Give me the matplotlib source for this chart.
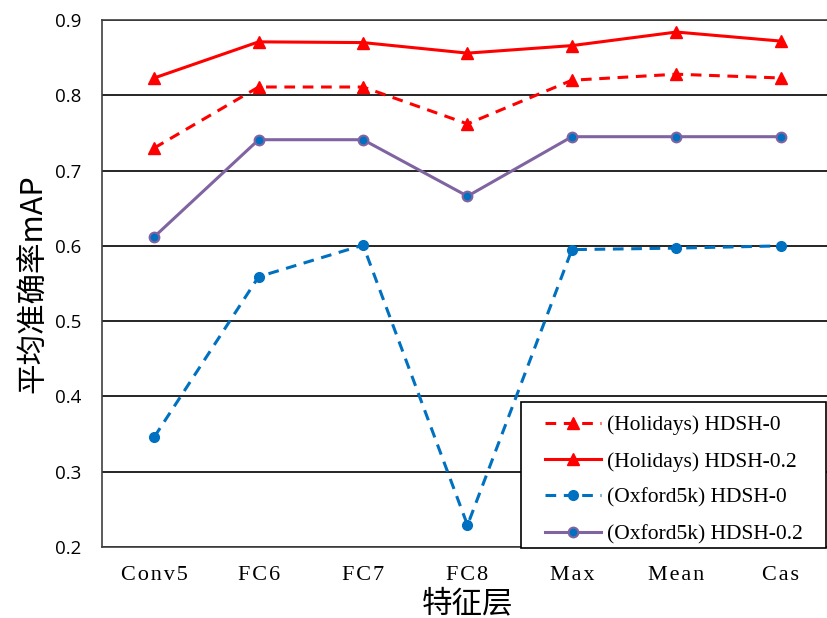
import matplotlib
matplotlib.use("Agg")
import matplotlib.pyplot as plt
from matplotlib.patches import Rectangle

categories = ["Conv5", "FC6", "FC7", "FC8", "Max", "Mean", "Cas"]
holidays_hdsh_0 = [0.730, 0.811, 0.811, 0.762, 0.820, 0.828, 0.823]
holidays_hdsh_02 = [0.823, 0.871, 0.870, 0.856, 0.866, 0.884, 0.872]
oxford_hdsh_0 = [0.346, 0.559, 0.601, 0.229, 0.595, 0.597, 0.600]
oxford_hdsh_02 = [0.612, 0.741, 0.741, 0.666, 0.745, 0.745, 0.745]
y_ticks = [0.2, 0.3, 0.4, 0.5, 0.6, 0.7, 0.8, 0.9]

cjk = ["Noto Sans CJK SC", "DejaVu Sans"]
serif = ["Liberation Serif", "DejaVu Serif"]


def spaced(label):
    # letter-spaced category names
    return "\u200a".join(label)


W, H = 828, 618
fig = plt.figure(figsize=(W / 100, H / 100), dpi=100)
ax_left, ax_bottom, ax_w, ax_h = 102, 71, 731, 527
ax = fig.add_axes([ax_left / W, ax_bottom / H, ax_w / W, ax_h / H])

x = list(range(len(categories)))
red = "#FF0000"
blue = "#0070C0"
purple = "#8064A2"

ax.plot(x, holidays_hdsh_0, color=red, linestyle=(0, (3.5, 2.5)), linewidth=2.2,
        marker="^", markersize=8, label="(Holidays) HDSH-0", zorder=3)
ax.plot(x, holidays_hdsh_02, color=red, linestyle="-", linewidth=2.2,
        marker="^", markersize=8, label="(Holidays) HDSH-0.2", zorder=3)
ax.plot(x, oxford_hdsh_0, color=blue, linestyle=(0, (3.5, 2.5)), linewidth=2.2,
        marker="o", markersize=7, label="(Oxford5k) HDSH-0", zorder=3)
ax.plot(x, oxford_hdsh_02, color=purple, linestyle="-", linewidth=2.2,
        marker="o", markersize=7, markerfacecolor=blue, markeredgecolor=purple,
        markeredgewidth=1.5, label="(Oxford5k) HDSH-0.2", zorder=3)

ax.set_xlim(-0.5, len(categories) - 0.5)
ax.set_ylim(0.2, 0.9)
ax.set_yticks(y_ticks)
ax.set_yticklabels([f"{v:.1f}" for v in y_ticks], fontsize=13.5, family="Open Sans")
ax.set_xticks(x)
ax.set_xticklabels([spaced(c) for c in categories], fontsize=16, family=serif)
ax.tick_params(axis="both", length=0)
ax.tick_params(axis="y", pad=15)
ax.tick_params(axis="x", pad=14)

ax.yaxis.grid(True, color="black", linewidth=1.2)
ax.set_axisbelow(True)
for side in ["left", "top", "right", "bottom"]:
    ax.spines[side].set_color("#404040")
    ax.spines[side].set_linewidth(1.2)

ax.set_ylabel("平均准确率mAP", fontsize=22, family=cjk, labelpad=4)
ax.set_xlabel("特征层", fontsize=22, family=cjk, labelpad=2)


def to_axes(px, py):
    # pixel position (from top-left of the figure) -> axes fraction
    return (px - ax_left) / ax_w, (H - py - ax_bottom) / ax_h


# legend frame
fx0, fy0 = to_axes(521, 548)
fx1, fy1 = to_axes(826, 402)
ax.add_patch(Rectangle((fx0, fy0), fx1 - fx0, fy1 - fy0, transform=ax.transAxes,
                       facecolor="white", edgecolor="black", linewidth=1.2,
                       zorder=4, clip_on=False))

lx, ly = to_axes(545, 415)
leg = ax.legend(loc="upper left", bbox_to_anchor=(lx, ly),
                prop={"family": "Liberation Serif", "size": 15.5},
                frameon=False, handlelength=2.6, handletextpad=0.3,
                borderpad=0, labelspacing=0.76, borderaxespad=0)
leg.set_zorder(5)

fig.savefig("out.png", dpi=100)
